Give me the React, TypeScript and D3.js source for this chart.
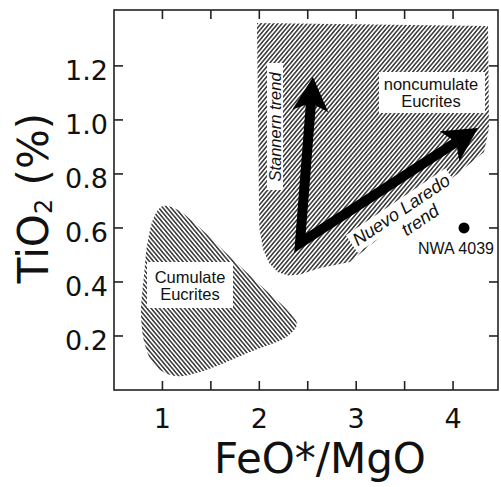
import React, { useRef, useEffect } from "react";
import * as d3 from "d3";

type Pt = [number, number];

const xTicks = [1, 1.5, 2, 2.5, 3, 3.5, 4];
const xTickLabels = [1, 2, 3, 4];
const yTicks = [0.2, 0.4, 0.6, 0.8, 1.0, 1.2];

// field outlines (FeO*/MgO, TiO2 %)
const cumulateOutline: Pt[] = [
  [1.006, 0.681], [1.14, 0.67], [1.388, 0.6], [1.697, 0.493], [2.007, 0.389],
  [2.317, 0.285], [2.389, 0.244], [2.296, 0.2], [1.904, 0.141], [1.388, 0.067],
  [1.13, 0.052], [0.923, 0.089], [0.82, 0.167], [0.779, 0.278], [0.81, 0.426],
  [0.851, 0.556], [0.923, 0.648],
];

const noncumulateOutline: Pt[] = [
  [1.976, 1.359], [4.361, 1.348], [4.371, 0.97], [4.32, 0.881], [2.936, 0.474],
  [2.627, 0.452], [2.42, 0.428], [2.3, 0.424], [2.193, 0.436], [2.1, 0.47],
  [2.04, 0.52], [2.0, 0.6],
];

const trendOrigin: Pt = [2.42, 0.544];
const stannernEnd: Pt = [2.554, 1.159];
const nuevoLaredoEnd: Pt = [4.258, 0.97];
const nwa4039: Pt = [4.113, 0.6];

const width = 501;
const height = 487;
const margin = { top: 10, right: 3, bottom: 97, left: 114 };

function App() {
  const svgRef = useRef<SVGSVGElement>(null);

  useEffect(() => {
    if (!svgRef.current) {
      return;
    }
    const svg = d3.select(svgRef.current);
    svg.selectAll("*").remove();

    const x = d3
      .scaleLinear()
      .domain([0.5, 4.464])
      .range([margin.left, width - margin.right]);
    const y = d3
      .scaleLinear()
      .domain([0, 1.407])
      .range([height - margin.bottom, margin.top]);

    const axisFont = "DejaVu Sans, sans-serif";
    const labelFont = "Liberation Sans, Arial, sans-serif";

    const defs = svg.append("defs");
    const hatch = (id: string, angle: number) => {
      const p = defs
        .append("pattern")
        .attr("id", id)
        .attr("patternUnits", "userSpaceOnUse")
        .attr("width", 3.2)
        .attr("height", 10)
        .attr("patternTransform", `rotate(${angle})`);
      p.append("rect").attr("width", 3.2).attr("height", 10).attr("fill", "#fff");
      p.append("line")
        .attr("x1", 0.8)
        .attr("x2", 0.8)
        .attr("y1", 0)
        .attr("y2", 10)
        .attr("stroke", "#333")
        .attr("stroke-width", 1.5);
    };
    hatch("hatchUp", 40);
    hatch("hatchDown", -40);

    const line = d3
      .line<Pt>()
      .x((d) => x(d[0]))
      .y((d) => y(d[1]));

    svg
      .append("path")
      .datum(cumulateOutline)
      .attr("d", line.curve(d3.curveCatmullRomClosed.alpha(0.5)))
      .attr("fill", "url(#hatchDown)");

    svg
      .append("path")
      .datum(noncumulateOutline)
      .attr("d", line.curve(d3.curveLinearClosed))
      .attr("fill", "url(#hatchUp)");

    // label boxes
    const box = (x0: number, y0: number, w: number, h: number) =>
      svg
        .append("rect")
        .attr("x", x0)
        .attr("y", y0)
        .attr("width", w)
        .attr("height", h)
        .attr("fill", "#fff");

    box(379, 72, 106, 41);
    box(147, 262, 86, 46);
    box(267, 63, 16, 127);

    const nlG = svg
      .append("g")
      .attr("transform", `translate(${x(3.5)},${y(0.648)}) rotate(-34)`);
    nlG.append("rect").attr("x", -60).attr("y", -16).attr("width", 120).attr("height", 21).attr("fill", "#fff");

    // trend arrows
    const arrow = (from: Pt, to: Pt) => {
      const x0 = x(from[0]);
      const y0 = y(from[1]);
      const x1 = x(to[0]);
      const y1 = y(to[1]);
      const len = Math.hypot(x1 - x0, y1 - y0);
      const ux = (x1 - x0) / len;
      const uy = (y1 - y0) / len;
      const px = -uy;
      const py = ux;
      const hl = 34;
      const hw = 18;
      const notch = 26;
      return {
        shaftEnd: [x1 - ux * notch, y1 - uy * notch],
        head: [
          [x1, y1],
          [x1 - ux * hl + px * hw, y1 - uy * hl + py * hw],
          [x1 - ux * notch, y1 - uy * notch],
          [x1 - ux * hl - px * hw, y1 - uy * hl - py * hw],
        ],
      };
    };
    const a1 = arrow(trendOrigin, stannernEnd);
    const a2 = arrow(trendOrigin, nuevoLaredoEnd);
    svg
      .append("path")
      .attr(
        "d",
        `M${a1.shaftEnd[0]},${a1.shaftEnd[1]}L${x(trendOrigin[0])},${y(trendOrigin[1])}L${a2.shaftEnd[0]},${a2.shaftEnd[1]}`
      )
      .attr("fill", "none")
      .attr("stroke", "#000")
      .attr("stroke-width", 10)
      .attr("stroke-linejoin", "miter");
    [a1.head, a2.head].forEach((h) => {
      svg
        .append("polygon")
        .attr("points", h.map((p) => p.join(",")).join(" "))
        .attr("fill", "#000");
    });

    // labels
    const t1 = svg
      .append("text")
      .attr("font-family", labelFont)
      .attr("font-size", 16.5)
      .attr("text-anchor", "middle")
      .attr("fill", "#111");
    t1.append("tspan").attr("x", 431).attr("y", 90).text("noncumulate");
    t1.append("tspan").attr("x", 431).attr("y", 107).text("Eucrites");

    const t2 = svg
      .append("text")
      .attr("font-family", labelFont)
      .attr("font-size", 16.5)
      .attr("text-anchor", "middle")
      .attr("fill", "#111");
    t2.append("tspan").attr("x", 190).attr("y", 283).text("Cumulate");
    t2.append("tspan").attr("x", 190).attr("y", 300).text("Eucrites");

    svg
      .append("text")
      .attr("transform", "translate(281,127) rotate(-90)")
      .attr("font-family", labelFont)
      .attr("font-size", 16.5)
      .attr("font-style", "italic")
      .attr("text-anchor", "middle")
      .attr("fill", "#111")
      .text("Stannern trend");

    nlG
      .append("text")
      .attr("font-family", labelFont)
      .attr("font-size", 18)
      .attr("font-style", "italic")
      .attr("text-anchor", "middle")
      .attr("fill", "#111")
      .text("Nuevo Laredo");
    nlG
      .append("text")
      .attr("x", 10)
      .attr("y", 19)
      .attr("font-family", labelFont)
      .attr("font-size", 18)
      .attr("font-style", "italic")
      .attr("text-anchor", "middle")
      .attr("fill", "#111")
      .text("trend");

    svg
      .append("circle")
      .attr("cx", x(nwa4039[0]))
      .attr("cy", y(nwa4039[1]))
      .attr("r", 5.5)
      .attr("fill", "#000");
    svg
      .append("text")
      .attr("x", x(nwa4039[0]) - 8)
      .attr("y", y(nwa4039[1]) + 26)
      .attr("font-family", labelFont)
      .attr("font-size", 16)
      .attr("text-anchor", "middle")
      .attr("fill", "#111")
      .text("NWA 4039");

    // frame and inward ticks
    const [xl, xr] = x.range();
    const [yb, yt] = y.range();
    svg
      .append("rect")
      .attr("x", xl)
      .attr("y", yt)
      .attr("width", xr - xl)
      .attr("height", yb - yt)
      .attr("fill", "none")
      .attr("stroke", "#222")
      .attr("stroke-width", 1.6);

    const tickLen = 9;
    const ticks = svg.append("g").attr("stroke", "#222").attr("stroke-width", 1.6);
    xTicks.forEach((v) => {
      ticks.append("line").attr("x1", x(v)).attr("x2", x(v)).attr("y1", yb).attr("y2", yb - tickLen);
      ticks.append("line").attr("x1", x(v)).attr("x2", x(v)).attr("y1", yt).attr("y2", yt + tickLen);
    });
    yTicks.forEach((v) => {
      ticks.append("line").attr("x1", xl).attr("x2", xl + tickLen).attr("y1", y(v)).attr("y2", y(v));
      ticks.append("line").attr("x1", xr).attr("x2", xr - tickLen).attr("y1", y(v)).attr("y2", y(v));
    });

    svg
      .append("g")
      .selectAll("text")
      .data(xTickLabels)
      .join("text")
      .attr("x", (d) => x(d))
      .attr("y", 428)
      .attr("text-anchor", "middle")
      .attr("font-family", axisFont)
      .attr("font-size", 27)
      .attr("fill", "#111")
      .text((d) => String(d));

    svg
      .append("g")
      .selectAll("text")
      .data(yTicks)
      .join("text")
      .attr("x", 108)
      .attr("y", (d) => y(d) + 14)
      .attr("text-anchor", "end")
      .attr("font-family", axisFont)
      .attr("font-size", 27)
      .attr("fill", "#111")
      .text((d) => d.toFixed(1));

    svg
      .append("text")
      .attr("x", 320)
      .attr("y", 473)
      .attr("text-anchor", "middle")
      .attr("font-family", axisFont)
      .attr("font-size", 42)
      .attr("fill", "#111")
      .text("FeO*/MgO");

    const yl = svg
      .append("text")
      .attr("transform", "translate(48,198) rotate(-90)")
      .attr("text-anchor", "middle")
      .attr("font-family", axisFont)
      .attr("font-size", 42)
      .attr("fill", "#111");
    yl.append("tspan").text("TiO");
    yl.append("tspan").attr("font-size", 24).attr("dy", 4).text("2");
    yl.append("tspan").attr("dy", -4).text(" (%)");
  }, []);

  return (
    <svg
      ref={svgRef}
      width={width}
      height={height}
      style={{ position: "absolute", left: 0, top: 0, background: "#fff" }}
    />
  );
}

export default App;
